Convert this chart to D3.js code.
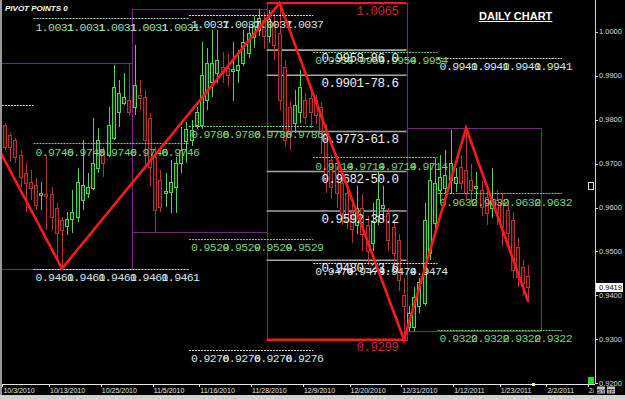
<!DOCTYPE html>
<html>
<head>
<meta charset="utf-8">
<script src="https://cdn.jsdelivr.net/npm/d3@7"></script>
<style>
body { margin: 0; background: #000; overflow: hidden; }
svg { display: block; }
</style>
</head>
<body>
<div id="chart"></div>
<script>
// daily candles, one per bar index (Sunday bars included), 10/3/2010 .. 1/28/2011
var opens  = [0.9788,0.9765,0.9754,0.9719,0.9678,0.9658,0.9651,0.9628,0.9630,0.9630,
              0.9598,0.9572,0.9558,0.9574,0.9578,0.9617,0.9633,0.9644,0.9690,0.9731,
              0.9719,0.9758,0.9817,0.9838,0.9845,0.9828,0.9856,0.9851,0.9803,0.9715,
              0.9662,0.9633,0.9635,0.9646,0.9701,0.9751,0.9754,0.9788,0.9788,0.9845,
              0.9886,0.9906,0.9920,0.9917,0.9910,0.9913,0.9929,0.9951,0.9988,1.0004,
              1.0027,0.9990,1.0020,0.9997,0.9920,0.9828,0.9792,0.9817,0.9845,0.9849,
              0.9845,0.9828,0.9769,0.9708,0.9701,0.9655,0.9633,0.9590,0.9560,0.9600,
              0.9560,0.9520,0.9580,0.9600,0.9587,0.9556,0.9526,0.9400,0.9328,0.9328,
              0.9375,0.9382,0.9496,0.9564,0.9640,0.9645,0.9662,0.9655,0.9692,0.9685,
              0.9662,0.9644,0.9640,0.9624,0.9600,0.9617,0.9610,0.9594,0.9572,0.9510,
              0.9465,0.9445];
var highs  = [0.9792,0.9770,0.9758,0.9731,0.9701,0.9685,0.9667,0.9658,0.9719,0.9646,
              0.9610,0.9578,0.9590,0.9640,0.9690,0.9754,0.9678,0.9804,0.9781,0.9738,
              0.9829,0.9924,0.9890,0.9906,0.9929,0.9970,0.9890,0.9867,0.9815,0.9737,
              0.9685,0.9678,0.9708,0.9715,0.9783,0.9795,0.9799,0.9829,0.9977,0.9963,
              1.0004,1.0004,0.9954,0.9950,0.9976,0.9958,1.0004,1.0020,1.0035,1.0052,
              1.0045,1.0050,1.0040,1.0065,0.9936,0.9840,0.9867,0.9913,0.9860,0.9862,
              0.9856,0.9840,0.9790,0.9720,0.9712,0.9670,0.9650,0.9620,0.9650,0.9630,
              0.9580,0.9610,0.9680,0.9650,0.9600,0.9570,0.9540,0.9440,0.9375,0.9420,
              0.9440,0.9610,0.9700,0.9712,0.9720,0.9730,0.9776,0.9690,0.9720,0.9781,
              0.9700,0.9680,0.9660,0.9650,0.9690,0.9640,0.9630,0.9610,0.9590,0.9530,
              0.9480,0.9470];
var lows   = [0.9730,0.9703,0.9701,0.9646,0.9590,0.9617,0.9594,0.9594,0.9549,0.9549,
              0.9480,0.9461,0.9537,0.9542,0.9567,0.9594,0.9621,0.9640,0.9678,0.9669,
              0.9715,0.9754,0.9783,0.9833,0.9810,0.9810,0.9822,0.9685,0.9646,0.9544,
              0.9590,0.9601,0.9587,0.9587,0.9678,0.9701,0.9740,0.9779,0.9779,0.9822,
              0.9851,0.9883,0.9883,0.9874,0.9842,0.9883,0.9922,0.9940,0.9963,0.9990,
              0.9960,0.9975,0.9936,0.9822,0.9737,0.9731,0.9769,0.9792,0.9790,0.9780,
              0.9790,0.9722,0.9633,0.9620,0.9600,0.9560,0.9550,0.9520,0.9540,0.9500,
              0.9470,0.9500,0.9560,0.9570,0.9500,0.9460,0.9410,0.9299,0.9319,0.9319,
              0.9360,0.9375,0.9480,0.9545,0.9610,0.9620,0.9630,0.9636,0.9640,0.9620,
              0.9610,0.9620,0.9580,0.9560,0.9575,0.9560,0.9510,0.9520,0.9440,0.9420,
              0.9400,0.9385];
var closes = [0.9737,0.9737,0.9715,0.9669,0.9655,0.9644,0.9606,0.9632,0.9626,0.9578,
              0.9542,0.9549,0.9574,0.9590,0.9658,0.9651,0.9646,0.9701,0.9754,0.9701,
              0.9788,0.9874,0.9860,0.9851,0.9817,0.9878,0.9849,0.9754,0.9692,0.9594,
              0.9601,0.9637,0.9658,0.9701,0.9731,0.9779,0.9776,0.9817,0.9901,0.9929,
              0.9929,0.9936,0.9908,0.9901,0.9915,0.9924,0.9977,0.9997,1.0014,1.0031,
              0.9990,1.0030,0.9970,0.9845,0.9754,0.9769,0.9833,0.9874,0.9806,0.9817,
              0.9810,0.9769,0.9662,0.9646,0.9633,0.9587,0.9570,0.9550,0.9600,0.9540,
              0.9500,0.9570,0.9620,0.9605,0.9526,0.9496,0.9435,0.9375,0.9360,0.9396,
              0.9430,0.9571,0.9662,0.9655,0.9669,0.9675,0.9701,0.9669,0.9655,0.9633,
              0.9640,0.9648,0.9601,0.9587,0.9620,0.9587,0.9556,0.9542,0.9458,0.9442,
              0.9428,0.9419];

// date axis
var tickBars   = [0, 9, 19, 29, 38, 48, 58, 67, 77, 87, 96, 105, 113];
var tickLabels = ["10/3/2010","10/13/2010","10/25/2010","11/5/2010","11/16/2010","11/28/2010",
                  "12/9/2010","12/20/2010","12/31/2010","1/12/2011","1/23/2011","2/2/2011","2/11/2011"];
var priceTicks = [1.0000, 0.9900, 0.9800, 0.9700, 0.9600, 0.9500, 0.9400, 0.9300, 0.9200];
var lastPrice = 0.9419;
var nowBar = 102;

// zigzag swings
var zigBars   = [-3, 11, 53, 77, 89, 101];
var zigPrices = [0.9773, 0.9461, 1.0065, 0.9299, 0.9781, 0.9385];

// monthly high/low boxes
var boxFrom = [-1, 24.5, 50.5, 77.5];
var boxTo   = [24.5, 50.5, 77.5, 103.5];
var boxHigh = [0.9929, 1.0052, 1.0065, 0.9781];
var boxLow  = [0.9461, 0.9544, 0.9299, 0.9319];

// pivot point periods
var periodFrom   = [-0.6, 5.5, 35.5, 59.5, 83.5];
var periodTo     = [5.5, 35.5, 59.5, 83.5, 107.5];
var periodCopies = [0, 5, 4, 4, 4];
var pivotPeriod = [0, 1, 1, 1, 2, 2, 2, 2, 3, 3, 3, 4, 4, 4];
var pivotPrice  = [0.9833, 1.0031, 0.9746, 0.9461, 1.0037, 0.9786, 0.9529, 0.9276,
                   0.9954, 0.9714, 0.9474, 0.9941, 0.9632, 0.9322];
var pivotKind   = ["w","m","g","w","w","g","g","w","g","g","w","w","g","g"];

// fibonacci retracement of the Dec swing
var fibFrom = 50.5, fibTo = 77.5;
var fibHigh = 1.0065, fibLow = 0.9299;
var fibPrices = [0.9958, 0.9901, 0.9773, 0.9682, 0.9592, 0.9480];
var fibPct    = ["86.0", "78.6", "61.8", "50.0", "38.2", "23.6"];

//////////////////////////////////////////////

var W = 625, H = 399;
var plotL = 2, plotR = 595, plotB = 384;
var kindColor = {g: "#7ccf7c", m: "#9fdfb4", w: "#d2e8e6"};
var mono = "'Liberation Mono', 'DejaVu Sans Mono', monospace";
var sans = "'Liberation Sans', Arial, sans-serif";

var svg = d3.select("#chart").append("svg")
  .attr("width", W)
  .attr("height", H);

svg.append("rect").attr("width", W).attr("height", H).attr("fill", "#000");

var x = d3.scaleLinear().domain([0, 105]).range([5, 549]);
var y = d3.scaleLinear().domain([0.92, 1.00]).range([383.3, 31.7]);
var px = v => Math.round(v) + 0.5;

svg.append("clipPath").attr("id", "plot")
  .append("rect").attr("x", plotL).attr("y", 0).attr("width", plotR - plotL).attr("height", plotB);

var g = svg.append("g").attr("clip-path", "url(#plot)");

// month boxes
g.selectAll(".box")
  .data(boxFrom)
  .join("rect")
    .attr("class", "box")
    .attr("x", (d, i) => px(x(d)))
    .attr("y", (d, i) => px(y(boxHigh[i])))
    .attr("width", (d, i) => Math.round(x(boxTo[i])) - Math.round(x(d)))
    .attr("height", (d, i) => Math.round(y(boxLow[i])) - Math.round(y(boxHigh[i])))
    .attr("fill", "none")
    .attr("stroke", "#77297d")
    .attr("stroke-width", 1);

// fib gray lines
g.selectAll(".fibLine")
  .data(fibPrices)
  .join("line")
    .attr("class", "fibLine")
    .attr("x1", x(fibFrom)).attr("x2", x(fibTo))
    .attr("y1", d => y(d)).attr("y2", d => y(d))
    .attr("stroke", "#a6a6a6")
    .attr("stroke-width", 1.6);

// candles
var bars = d3.range(opens.length).map(i => ({i: i, o: opens[i], h: highs[i], l: lows[i], c: closes[i]}));
var up = d => d.c >= d.o;
var candleCol = d => up(d) ? "#5ccc5c" : "#b03431";

g.selectAll(".wick")
  .data(bars)
  .join("line")
    .attr("class", "wick")
    .attr("x1", d => px(x(d.i))).attr("x2", d => px(x(d.i)))
    .attr("y1", d => Math.round(y(d.h))).attr("y2", d => Math.round(y(d.l)))
    .attr("stroke", candleCol)
    .attr("stroke-width", 1);

g.selectAll(".body")
  .data(bars)
  .join("rect")
    .attr("class", "body")
    .attr("x", d => Math.round(x(d.i)) - 1.5)
    .attr("width", 3)
    .attr("y", d => px(y(Math.max(d.o, d.c))))
    .attr("height", d => Math.max(1, Math.round(y(Math.min(d.o, d.c))) - Math.round(y(Math.max(d.o, d.c)))))
    .attr("fill", d => up(d) ? "#123812" : "#3a0d0c")
    .attr("stroke", candleCol)
    .attr("stroke-width", 1);

// pivot lines
var pivots = pivotPrice.map((p, i) => ({p: p, per: pivotPeriod[i], kind: pivotKind[i]}));

g.selectAll(".pivLine")
  .data(pivots)
  .join("line")
    .attr("class", "pivLine")
    .attr("x1", d => x(periodFrom[d.per])).attr("x2", d => x(periodTo[d.per]))
    .attr("y1", d => px(y(d.p))).attr("y2", d => px(y(d.p)))
    .attr("stroke", d => kindColor[d.kind])
    .attr("stroke-width", 1)
    .attr("stroke-dasharray", "2,1");

// pivot labels, repeated once per day group like the indicator does
var probe = g.append("text").attr("font-family", mono).attr("font-size", 11.5)
  .attr("letter-spacing", -0.6).text("0.0000");
var step = probe.node().getComputedTextLength() * 5 / 6;
probe.remove();

var pivLabels = [];
pivots.forEach(function(d) {
  for (var k = 0; k < periodCopies[d.per]; k++) pivLabels.push({d: d, k: k});
});

g.selectAll(".pivText")
  .data(pivLabels)
  .join("text")
    .attr("class", "pivText")
    .attr("x", e => x(periodFrom[e.d.per]) + 2 + e.k * step)
    .attr("y", e => y(e.d.p) + 12.5)
    .attr("font-family", mono)
    .attr("font-size", 11.5)
    .attr("letter-spacing", -0.6)
    .attr("fill", e => kindColor[e.d.kind])
    .text(e => e.d.p.toFixed(4));

// fib labels
g.selectAll(".fibText")
  .data(fibPrices)
  .join("text")
    .attr("class", "fibText")
    .attr("x", x(fibTo) - 8)
    .attr("y", d => y(d) + 11.5)
    .attr("text-anchor", "end")
    .attr("font-family", mono)
    .attr("font-size", 12.5)
    .attr("letter-spacing", -0.5)
    .attr("fill", "#f2f2f2")
    .text((d, i) => d.toFixed(4) + "-" + fibPct[i]);

// zigzag
var zz = zigBars.map((b, i) => [x(b), y(zigPrices[i])]);
g.append("path")
  .attr("d", d3.line()(zz))
  .attr("fill", "none")
  .attr("stroke", "#f51c1c")
  .attr("stroke-width", 2.6)
  .attr("stroke-linejoin", "miter");

// fib 100 / 0 lines
g.selectAll(".fibEnd")
  .data([fibHigh, fibLow])
  .join("line")
    .attr("class", "fibEnd")
    .attr("x1", x(fibFrom)).attr("x2", x(fibTo))
    .attr("y1", d => y(d)).attr("y2", d => y(d))
    .attr("stroke", "#e81e1e")
    .attr("stroke-width", 2.4);

g.selectAll(".fibEndText")
  .data([fibHigh, fibLow])
  .join("text")
    .attr("class", "fibEndText")
    .attr("x", x(fibTo) - 8)
    .attr("y", d => y(d) + 11.5)
    .attr("text-anchor", "end")
    .attr("font-family", mono)
    .attr("font-size", 12.5)
    .attr("letter-spacing", -0.5)
    .attr("fill", "#c82a2a")
    .text(d => d.toFixed(4));

// titles
svg.append("text")
  .attr("x", 5).attr("y", 11)
  .attr("font-family", sans).attr("font-size", 8)
  .attr("font-weight", "bold").attr("font-style", "italic")
  .attr("fill", "#fff")
  .text("PIVOT POINTS 0");

var daily = svg.append("text")
  .attr("x", 479).attr("y", 19.5)
  .attr("font-family", sans).attr("font-size", 11)
  .attr("font-weight", "bold")
  .attr("fill", "#fff")
  .text("DAILY CHART");
var dw = daily.node().getComputedTextLength();
svg.append("line")
  .attr("x1", 479).attr("x2", 479 + dw)
  .attr("y1", 21.5).attr("y2", 21.5)
  .attr("stroke", "#fff").attr("stroke-width", 1);

// x axis
svg.append("line")
  .attr("x1", 0).attr("x2", plotR)
  .attr("y1", plotB + 0.5).attr("y2", plotB + 0.5)
  .attr("stroke", "#e6e6e6");

var xt = svg.append("g").attr("clip-path", "url(#xclip)");
svg.append("clipPath").attr("id", "xclip")
  .append("rect").attr("x", 0).attr("y", plotB).attr("width", plotR - 1).attr("height", 12);

xt.selectAll(".xtick")
  .data(tickBars)
  .join("line")
    .attr("class", "xtick")
    .attr("x1", d => px(x(d - 0.5))).attr("x2", d => px(x(d - 0.5)))
    .attr("y1", plotB).attr("y2", plotB + 3)
    .attr("stroke", "#e6e6e6");

xt.selectAll(".xlab")
  .data(tickBars)
  .join("text")
    .attr("class", "xlab")
    .attr("x", d => x(d - 0.5) + 1)
    .attr("y", 393)
    .attr("font-family", sans).attr("font-size", 7)
    .attr("fill", "#e6e6e6")
    .text((d, i) => tickLabels[i]);

svg.append("rect")
  .attr("x", x(nowBar) - 1.5).attr("y", plotB - 1)
  .attr("width", 3).attr("height", 3)
  .attr("fill", "#ffff70");

// y axis
svg.append("line")
  .attr("x1", plotR + 0.5).attr("x2", plotR + 0.5)
  .attr("y1", 0).attr("y2", plotB)
  .attr("stroke", "#d0d0d0");

svg.selectAll(".ytick")
  .data(priceTicks)
  .join("line")
    .attr("class", "ytick")
    .attr("x1", plotR).attr("x2", plotR + 3)
    .attr("y1", d => px(y(d))).attr("y2", d => px(y(d)))
    .attr("stroke", "#d0d0d0");

svg.selectAll(".ylab")
  .data(priceTicks)
  .join("text")
    .attr("class", "ylab")
    .attr("x", plotR + 4)
    .attr("y", d => y(d) + 2.6)
    .attr("font-family", sans).attr("font-size", 7.5)
    .attr("fill", "#dcdcdc")
    .text(d => d.toFixed(4));

svg.append("rect")
  .attr("x", plotR + 1).attr("y", Math.round(y(lastPrice)) - 4)
  .attr("width", 27).attr("height", 9)
  .attr("fill", "#fff");
svg.append("text")
  .attr("x", plotR + 4).attr("y", y(lastPrice) + 3)
  .attr("font-family", sans).attr("font-size", 7.5)
  .attr("fill", "#000")
  .text(lastPrice.toFixed(4));

// small chart widgets
svg.append("rect")
  .attr("x", 588.5).attr("y", 182.5).attr("width", 5).attr("height", 7)
  .attr("fill", "#000").attr("stroke", "#cfe8cf");
svg.append("rect")
  .attr("x", 588).attr("y", 377).attr("width", 6).attr("height", 7)
  .attr("fill", "#22dd22");

svg.append("rect").attr("x", 0).attr("y", 0).attr("width", 2).attr("height", 395).attr("fill", "#9a9a9a");
svg.append("rect").attr("x", 0).attr("y", 395).attr("width", W).attr("height", 4).attr("fill", "#d2d0cc");

["SY", "TF"].forEach(function(t, i) {
  svg.append("rect")
    .attr("x", 597 + i * 10).attr("y", 386.5).attr("width", 8).attr("height", 7)
    .attr("fill", "#c4c4c4");
  svg.append("text")
    .attr("x", 601 + i * 10).attr("y", 392.5)
    .attr("text-anchor", "middle")
    .attr("font-family", sans).attr("font-size", 6).attr("font-weight", "bold")
    .attr("fill", "#222")
    .text(t);
});
</script>
</body>
</html>
